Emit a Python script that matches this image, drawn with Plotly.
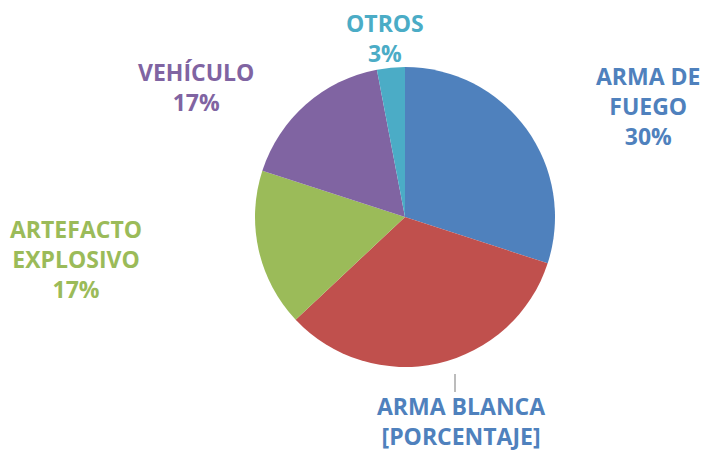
import plotly.graph_objects as go

labels = ["ARMA DE FUEGO", "ARMA BLANCA", "ARTEFACTO EXPLOSIVO", "VEHÍCULO", "OTROS"]
values = [30, 33, 17, 17, 3]
label_text = ["ARMA DE<br>FUEGO<br>30%", "ARMA BLANCA<br>[PORCENTAJE]",
              "ARTEFACTO<br>EXPLOSIVO<br>17%", "VEHÍCULO<br>17%", "OTROS<br>3%"]
slice_colors = ["#4F81BD", "#C0504D", "#9BBB59", "#8064A2", "#4BACC6"]
label_colors = ["#4F81BD", "#4F81BD", "#9BBB59", "#8064A2", "#4BACC6"]

# the page body has an 8px margin: figure is drawn offset by (8, 8)
OFF = 8
W, H = 709 - OFF, 452 - OFF


def px_x(x):
    return (x - OFF) / W


def px_y(y):
    return 1 - (y - OFF) / H


fig = go.Figure(go.Pie(
    labels=labels, values=values, sort=False, direction="clockwise", rotation=0,
    marker=dict(colors=slice_colors, line=dict(width=0)),
    textinfo="none", hoverinfo="label+percent",
    domain=dict(x=[px_x(255), px_x(555)], y=[px_y(367), px_y(67)]),
    showlegend=False,
))

# label positions (pixel centres in the 709x452 window)
label_pos = [(648, 106), (461, 421), (76, 259), (196, 87), (385, 38)]
for txt, col, (px, py) in zip(label_text, label_colors, label_pos):
    fig.add_annotation(x=px_x(px), y=px_y(py), xref="paper", yref="paper",
                       text=txt, showarrow=False, align="center",
                       font=dict(family="Open Sans", size=23, color=col, weight="bold"),
                       xanchor="center", yanchor="middle")

# leader line for ARMA BLANCA
fig.add_shape(type="line", xref="paper", yref="paper",
              x0=px_x(455), x1=px_x(455), y0=px_y(374), y1=px_y(392),
              line=dict(color="#A6A6A6", width=1.5))

fig.update_layout(width=W, height=H, margin=dict(l=0, r=0, t=0, b=0),
                  paper_bgcolor="white", plot_bgcolor="white")
fig.write_html("out.html")
